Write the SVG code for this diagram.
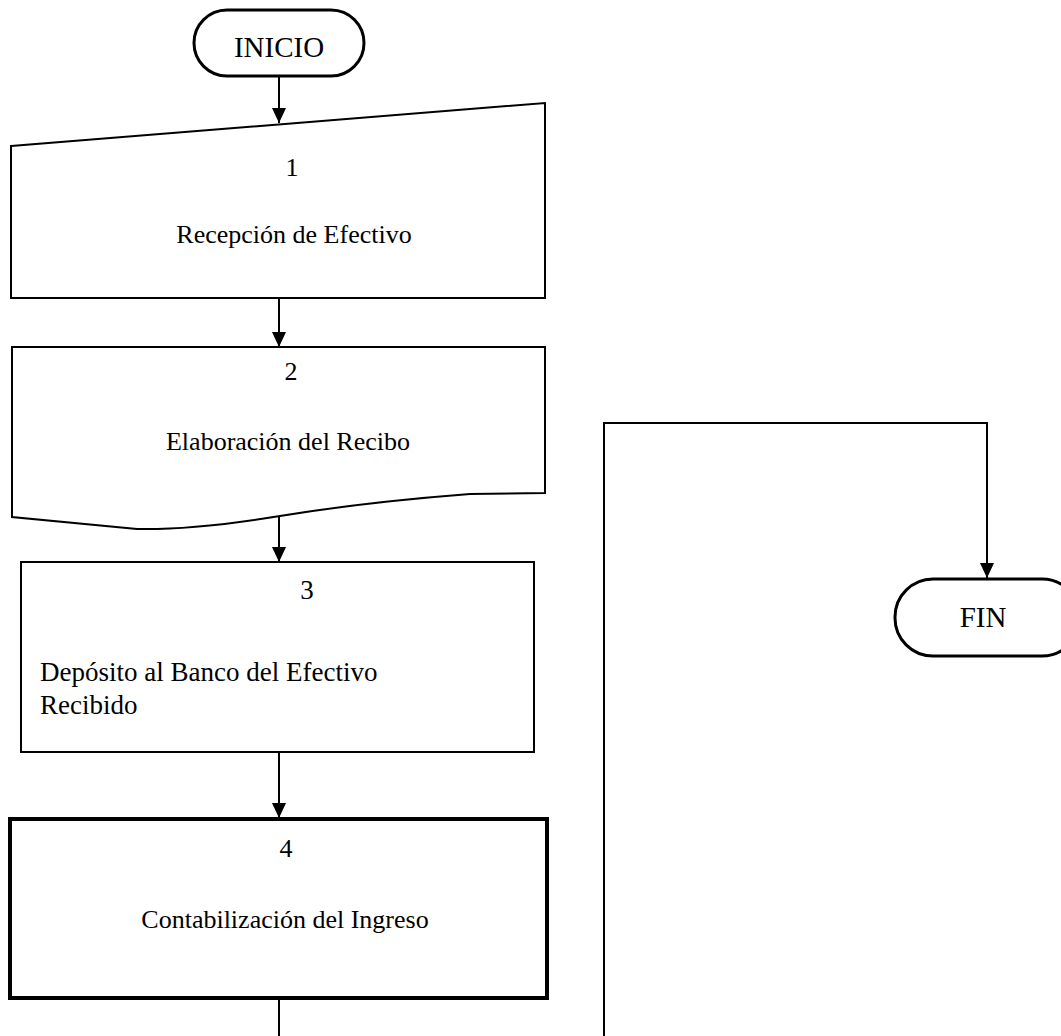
<svg xmlns="http://www.w3.org/2000/svg" width="1061" height="1036" viewBox="0 0 1061 1036">
  <style>
    .shape { fill: #ffffff; stroke: #000000; stroke-width: 2; }
    .term { fill: #ffffff; stroke: #000000; stroke-width: 3; }
    .bold { fill: #ffffff; stroke: #000000; stroke-width: 4; }
    .link { fill: none; stroke: #000000; stroke-width: 2; }
    .lbl { font-family: "Liberation Serif", "Times New Roman", serif; font-size: 26px; fill: #000000; }
    .big { font-size: 27px; }
    .tlbl { font-family: "Liberation Serif", "Times New Roman", serif; font-size: 29px; fill: #000000; }
    .mid { text-anchor: middle; }
  </style>
  <defs>
    <marker id="arrow" markerUnits="userSpaceOnUse" markerWidth="15" markerHeight="15" refX="15" refY="7" orient="auto">
      <path d="M0,0 L15,7 L0,14 Z" fill="#000000"/>
    </marker>
  </defs>
  <rect width="1061" height="1036" fill="#ffffff"/>

  <!-- connectors -->
  <g id="connectors">
    <line class="link" x1="279" y1="76" x2="279" y2="123" marker-end="url(#arrow)"/>
    <line class="link" x1="279" y1="298" x2="279" y2="347" marker-end="url(#arrow)"/>
    <line class="link" x1="279" y1="516" x2="279" y2="562" marker-end="url(#arrow)"/>
    <line class="link" x1="279" y1="752" x2="279" y2="818" marker-end="url(#arrow)"/>
    <line class="link" x1="279" y1="998" x2="279" y2="1036"/>
    <polyline class="link" points="604,1036 604,423 987,423 987,578" marker-end="url(#arrow)"/>
  </g>

  <!-- start terminator -->
  <g id="inicio">
    <rect class="term" x="194" y="10" width="170" height="66" rx="33" ry="33"/>
    <text class="tlbl mid" x="279" y="57">INICIO</text>
  </g>

  <!-- step 1: manual input -->
  <g id="step1">
    <polygon class="shape" points="11,146 545,103 545,298 11,298"/>
    <text class="lbl mid" x="292" y="176">1</text>
    <text class="lbl mid" x="294" y="243">Recepción de Efectivo</text>
  </g>

  <!-- step 2: document -->
  <g id="step2">
    <path class="shape" d="M12,347 H545 V493 L470,494 C405,499 335,507 280,516 C230,524 180,530 137,529 L12,517 Z"/>
    <text class="lbl mid" x="291" y="380">2</text>
    <text class="lbl mid" x="288" y="450">Elaboración del Recibo</text>
  </g>

  <!-- step 3: process -->
  <g id="step3">
    <rect class="shape" x="21" y="562" width="513" height="190"/>
    <text class="lbl big mid" x="307" y="599">3</text>
    <text class="lbl big" x="40" y="681">Depósito al Banco del Efectivo</text>
    <text class="lbl big" x="40" y="714">Recibido</text>
  </g>

  <!-- step 4: process (heavy outline) -->
  <g id="step4">
    <rect class="bold" x="10" y="819" width="537" height="179"/>
    <text class="lbl mid" x="286" y="857">4</text>
    <text class="lbl mid" x="285" y="928">Contabilización del Ingreso</text>
  </g>

  <!-- end terminator -->
  <g id="fin">
    <rect class="term" x="895" y="579" width="185" height="77" rx="38" ry="38"/>
    <text class="tlbl mid" x="983" y="627">FIN</text>
  </g>
</svg>
